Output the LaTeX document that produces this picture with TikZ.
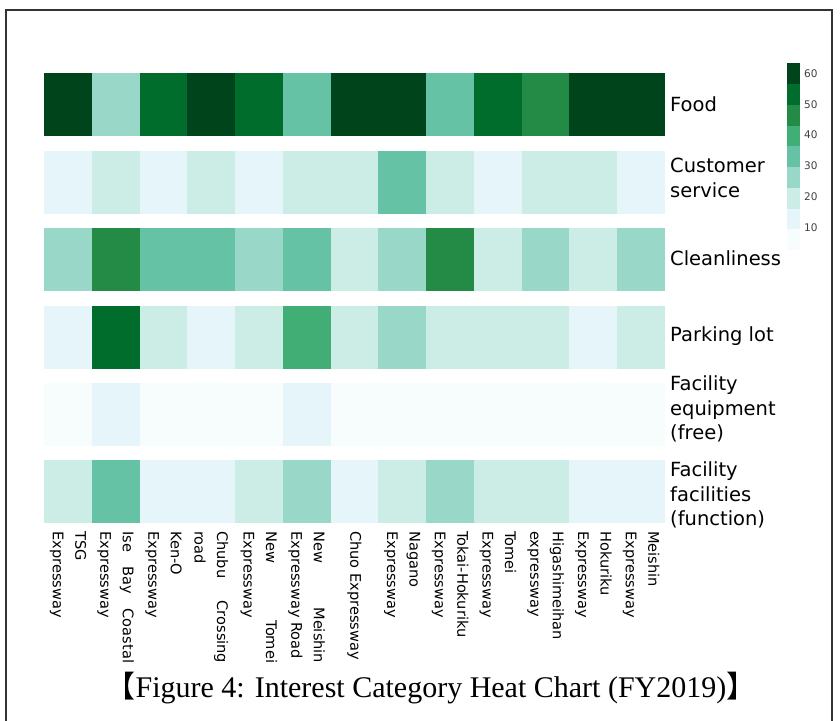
\documentclass[tikz,border=0pt]{standalone}
\usepackage{fontspec}
\setsansfont{DejaVu Sans}
\setmainfont{Liberation Serif}
\newfontfamily\cjkfont{Noto Sans CJK JP}
\definecolor{bg0}{HTML}{F7FCFD}
\definecolor{bg1}{HTML}{E5F5F9}
\definecolor{bg2}{HTML}{CCECE6}
\definecolor{bg3}{HTML}{99D8C9}
\definecolor{bg4}{HTML}{66C2A4}
\definecolor{bg5}{HTML}{41AE76}
\definecolor{bg6}{HTML}{238B45}
\definecolor{bg7}{HTML}{006D2C}
\definecolor{bg8}{HTML}{00441B}
\hyphenpenalty=10000
\exhyphenpenalty=10000
\tolerance=10000
\begin{document}
\begin{tikzpicture}[
  x=1pt, y=-1pt,
  rowlabel/.style={anchor=west, align=left, inner sep=0pt, font=\sffamily\fontsize{19.5}{24.5}\selectfont},
  collabel/.style={anchor=west, rotate=-90, inner sep=0pt, text width=132pt, align=justify,
    font=\sffamily\fontsize{14.6}{22.5}\selectfont},
  ticklabel/.style={anchor=west, inner sep=0pt, text=black!75, font=\sffamily\fontsize{10.5}{12}\selectfont}
]
\useasboundingbox (0,0) rectangle (840,720);
\draw[black!80, line width=1.2pt] (6,724) -- (6,10) -- (832,10) -- (832,724);

% heat cells, one row per category
\foreach \vals [count=\r from 0] in {
  {8,3,7,8,7,4,8,8,4,7,6,8,8},
  {1,2,1,2,1,2,2,4,2,1,2,2,1},
  {3,6,4,4,3,4,2,3,6,2,3,2,3},
  {1,7,2,1,2,5,2,3,2,2,2,1,2},
  {0,1,0,0,0,1,0,0,0,0,0,0,0},
  {2,4,1,1,2,3,1,2,3,2,2,1,1}} {
  \foreach \v [count=\c from 0] in \vals {
    \fill[bg\v] (44+47.77*\c, 73.3+77.4*\r) rectangle +(47.9, 63);
  }
}

% category labels
\node[rowlabel] (food) at (670,104.5) {Food};
\node[rowlabel] (service) at (670,178) {Customer\\service};
\node[rowlabel] (clean) at (670,258) {Cleanliness};
\node[rowlabel] (parking) at (670,336.5) {Parking lot};
\node[rowlabel] (free) at (670,409) {Facility\\equipment\\(free)};
\node[rowlabel] (function) at (670,495) {Facility\\facilities\\(function)};

% road labels
\foreach \road [count=\c from 0] in {
  {TSG\\Expressway}, {Ise Bay Coastal Expressway}, {Ken-O Expressway},
  {Chubu Crossing road}, {New Tomei Expressway}, {New Meishin Expressway Road},
  {Chuo Expressway}, {Nagano Expressway}, {Tokai-Hokuriku Expressway},
  {Tomei Expressway}, {Higashimeihan expressway}, {Hokuriku Expressway},
  {Meishin Expressway}}
  \node[collabel] (road-\c) at (44+47.77*\c+23.9, 531) {\road};

% colour scale
\foreach \k in {0,...,8}
  \fill[bg\k] (787,{250-20.74*(\k+1)}) rectangle +(13,20.8);
\foreach \t/\yy in {60/74,50/104.5,40/135,30/166,20/197,10/228}
  \node[ticklabel] (tick-\t) at (804,\yy) {\t};

\node[font=\fontsize{30}{34}\selectfont] (caption) at (431,688)
  {{\cjkfont 【}Figure 4: Interest Category Heat Chart (FY2019){\cjkfont 】}};
\end{tikzpicture}
\end{document}
